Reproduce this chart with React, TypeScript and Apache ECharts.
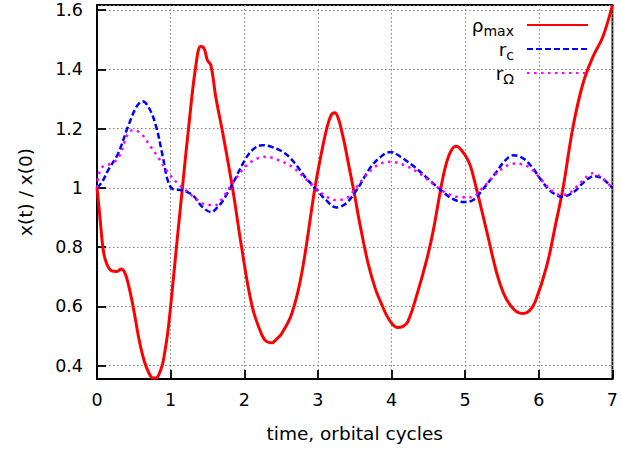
import React, { useEffect, useRef } from "react";
import * as echarts from "echarts";

const xTicks = [0, 1, 2, 3, 4, 5, 6, 7];
const yTicks = [0.4, 0.6, 0.8, 1, 1.2, 1.4, 1.6];
const seriesNames = ["ρmax", "rc", "rΩ"];

const rhoMax: [number, number][] = [
  [0, 1.0], [0.018, 0.958], [0.04, 0.9], [0.085, 0.79], [0.13, 0.745], [0.2, 0.72],
  [0.27, 0.718], [0.33, 0.726], [0.38, 0.712], [0.43, 0.67], [0.49, 0.6], [0.53, 0.545],
  [0.57, 0.49], [0.62, 0.435], [0.67, 0.395], [0.72, 0.368], [0.76, 0.358], [0.8, 0.358],
  [0.84, 0.37], [0.89, 0.405], [0.92, 0.445], [0.96, 0.51], [1.0, 0.6], [1.075, 0.79],
  [1.16, 1.0], [1.25, 1.217], [1.34, 1.408], [1.41, 1.478], [1.456, 1.47], [1.5, 1.43],
  [1.546, 1.414], [1.613, 1.307], [1.7, 1.195], [1.84, 1.0], [1.97, 0.79], [2.107, 0.6],
  [2.24, 0.503], [2.3, 0.482], [2.376, 0.477], [2.44, 0.49], [2.51, 0.509], [2.646, 0.576],
  [2.78, 0.711], [2.96, 1.0], [3.05, 1.12], [3.12, 1.2], [3.18, 1.245], [3.23, 1.253],
  [3.28, 1.232], [3.32, 1.195], [3.365, 1.145], [3.42, 1.075], [3.5, 0.974], [3.56, 0.891],
  [3.68, 0.747], [3.78, 0.66], [3.86, 0.61], [3.97, 0.554], [4.08, 0.529], [4.15, 0.532],
  [4.22, 0.548], [4.35, 0.644], [4.49, 0.77], [4.57, 0.86], [4.66, 0.985], [4.72, 1.06],
  [4.78, 1.11], [4.83, 1.133], [4.87, 1.14], [4.92, 1.135], [5.0, 1.11], [5.07, 1.075],
  [5.15, 1.0], [5.2, 0.95], [5.3, 0.846], [5.43, 0.711], [5.52, 0.645], [5.61, 0.605],
  [5.7, 0.582], [5.79, 0.576], [5.87, 0.585], [5.95, 0.615], [6.105, 0.734], [6.24, 0.891],
  [6.33, 1.0], [6.465, 1.206], [6.6, 1.352], [6.735, 1.442], [6.87, 1.51], [7.0, 1.617],
];

const rC: [number, number][] = [
  [0, 1.0], [0.07, 1.02], [0.152, 1.06], [0.287, 1.116], [0.42, 1.206], [0.535, 1.273],
  [0.62, 1.292], [0.714, 1.266], [0.804, 1.206], [0.894, 1.105], [0.96, 1.026], [1.03, 0.996],
  [1.16, 0.992], [1.3, 0.975], [1.43, 0.936], [1.55, 0.918], [1.635, 0.934], [1.7, 0.953],
  [1.84, 1.013], [1.995, 1.088], [2.107, 1.127], [2.24, 1.144], [2.376, 1.138], [2.555, 1.116],
  [2.69, 1.082], [2.825, 1.037], [2.96, 1.0], [3.09, 0.964], [3.25, 0.934], [3.38, 0.947],
  [3.54, 0.998], [3.72, 1.071], [3.88, 1.11], [3.99, 1.121], [4.12, 1.105], [4.31, 1.071],
  [4.49, 1.032], [4.67, 0.992], [4.82, 0.964], [4.98, 0.952], [5.11, 0.959], [5.23, 0.992],
  [5.41, 1.049], [5.545, 1.093], [5.655, 1.11], [5.79, 1.099], [5.925, 1.065], [6.015, 1.032],
  [6.17, 0.987], [6.32, 0.97], [6.48, 0.987], [6.615, 1.02], [6.75, 1.039], [6.86, 1.032],
  [7.0, 1.0],
];

const rOmega: [number, number][] = [
  [0, 1.0], [0.02, 1.04], [0.07, 1.07], [0.17, 1.08], [0.287, 1.1], [0.42, 1.183],
  [0.49, 1.195], [0.6, 1.183], [0.714, 1.144], [0.826, 1.105], [0.96, 1.054], [1.096, 1.015],
  [1.23, 0.987], [1.365, 0.959], [1.5, 0.942], [1.61, 0.942], [1.7, 0.964], [1.84, 1.015],
  [2.06, 1.082], [2.29, 1.105], [2.47, 1.093], [2.65, 1.071], [2.78, 1.043], [2.96, 1.0],
  [3.09, 0.975], [3.23, 0.959], [3.38, 0.964], [3.455, 0.981], [3.635, 1.037], [3.81, 1.077],
  [3.99, 1.088], [4.17, 1.077], [4.35, 1.054], [4.53, 1.02], [4.71, 0.987], [4.89, 0.97],
  [5.07, 0.968], [5.27, 1.009], [5.5, 1.065], [5.68, 1.082], [5.86, 1.071], [6.04, 1.026],
  [6.17, 0.992], [6.31, 0.975], [6.44, 0.987], [6.575, 1.02], [6.735, 1.049], [6.84, 1.037],
  [7.0, 1.0],
];

const legendParts: Record<string, [string, string]> = {
  "ρmax": ["ρ", "max"],
  "rc": ["r", "c"],
  "rΩ": ["r", "Ω"],
};

const FONT = "DejaVu Sans";

export default function App() {
  const ref = useRef<HTMLDivElement>(null);
  useEffect(() => {
    if (!ref.current) return;
    const chart = echarts.init(ref.current, null, { renderer: "svg" });
    const isTick = (v: number) => yTicks.some((t) => Math.abs(t - v) < 1e-6);
    chart.setOption({
      animation: false,
      backgroundColor: "#ffffff",
      grid: {
        left: 97, right: 5, top: 5, bottom: 73,
        show: true, borderColor: "#000", borderWidth: 1.8, backgroundColor: "transparent",
      },
      legend: {
        orient: "vertical",
        right: 32,
        top: 12,
        padding: 0,
        align: "right",
        itemWidth: 61,
        itemHeight: 14,
        itemGap: -2,
        data: seriesNames,
        itemStyle: { opacity: 0 },
        formatter: (name: string) => {
          const p = legendParts[name];
          return `{m|${p[0]}}{s|${p[1]}}`;
        },
        textStyle: {
          fontFamily: FONT,
          fontSize: 18,
          color: "#000",
          rich: {
            m: { fontFamily: FONT, fontSize: 18.5, color: "#000", lineHeight: 22 },
            s: {
              fontFamily: FONT, fontSize: 14, color: "#000", lineHeight: 12,
              padding: [12, 8, 0, 0],
            },
          },
        },
      },
      xAxis: {
        type: "value",
        min: xTicks[0],
        max: xTicks[xTicks.length - 1],
        interval: 1,
        name: "time, orbital cycles",
        nameLocation: "middle",
        nameGap: 45,
        nameTextStyle: { fontFamily: FONT, fontSize: 18.5, color: "#000" },
        axisLine: { show: true, lineStyle: { color: "#000", width: 1.8 } },
        axisTick: { show: true, inside: true, length: 9, lineStyle: { color: "#000", width: 1.8 } },
        axisLabel: { margin: 12, fontFamily: FONT, fontSize: 17.5, color: "#000" },
        splitLine: { show: true, lineStyle: { color: "#808080", type: [1.5, 2.5], width: 1 } },
      },
      yAxis: {
        type: "value",
        min: 0.355,
        max: 1.617,
        splitNumber: 6,
        name: "x(t) / x(0)",
        nameLocation: "middle",
        nameGap: 62,
        nameTextStyle: { fontFamily: FONT, fontSize: 18.5, color: "#000" },
        axisLine: { show: true, lineStyle: { color: "#000", width: 1.8 } },
        axisTick: { show: true, inside: true, length: 9, lineStyle: { color: "#000", width: 1.8 } },
        axisLabel: {
          margin: 14,
          fontFamily: FONT,
          fontSize: 17.5,
          color: "#000",
          showMinLabel: false,
          showMaxLabel: false,
          formatter: (v: number) => (isTick(v) ? String(Math.round(v * 10) / 10) : ""),
        },
        splitLine: { show: true, lineStyle: { color: "#808080", type: [1.5, 2.5], width: 1 } },
      },
      series: [
        {
          name: seriesNames[0], type: "line", data: rhoMax, symbol: "none", showSymbol: false,
          smooth: 0.4, lineStyle: { color: "#ff0000", width: 3 }, itemStyle: { color: "#ff0000" },
        },
        {
          name: seriesNames[1], type: "line", data: rC, symbol: "none", showSymbol: false,
          smooth: 0.35, lineStyle: { color: "#0000ff", width: 2.5, type: [6, 3] }, itemStyle: { color: "#0000ff" },
        },
        {
          name: seriesNames[2], type: "line", data: rOmega, symbol: "none", showSymbol: false,
          smooth: 0.35, lineStyle: { color: "#ff00ff", width: 2.5, type: [2.5, 4.5] }, itemStyle: { color: "#ff00ff" },
        },
      ],
    });
    return () => chart.dispose();
  }, []);
  return (
    <div
      ref={ref}
      style={{ position: "absolute", left: 0, top: 0, width: 621, height: 452, background: "#fff" }}
    />
  );
}
